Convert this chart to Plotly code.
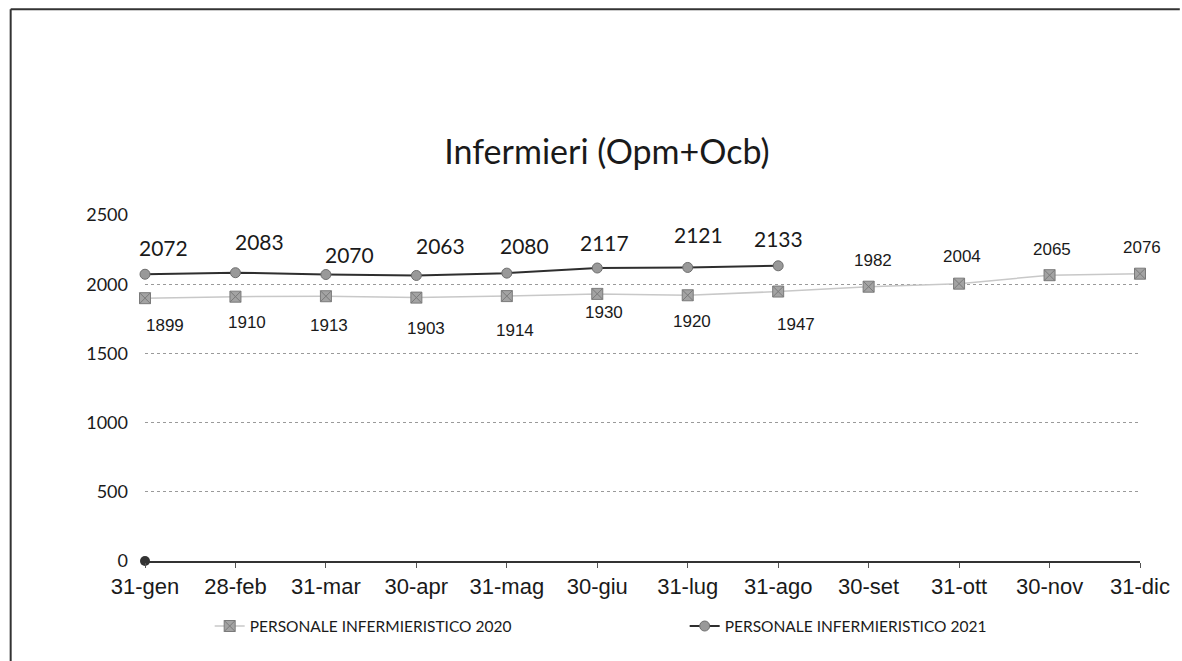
import plotly.graph_objects as go

# dati del grafico
mesi = ['31-gen', '28-feb', '31-mar', '30-apr', '31-mag', '30-giu',
        '31-lug', '31-ago', '30-set', '31-ott', '30-nov', '31-dic']
personale_2020 = [1899, 1910, 1913, 1903, 1914, 1930, 1920, 1947, 1982, 2004, 2065, 2076]
personale_2021 = [2072, 2083, 2070, 2063, 2080, 2117, 2121, 2133]
punto_zero = [0]
y_ticks = [0, 500, 1000, 1500, 2000, 2500]

# spostamento delle etichette (come posizionate a mano in Excel)
shift_2020_y = [-27, -26, -29, -31, -34, -19, -26, -33, 26, 27, 26, 26]
shift_2020_x = [20, 12, 3, 10, 8, 7, 4, 18, 4, 3, 2, 2]
shift_2021_y = [27, 31, 20, 30, 28, 26, 33, 27]
shift_2021_x = [18, 24, 24, 24, 18, 7, 11, 0]

fig = go.Figure()

fig.add_trace(go.Scatter(
    x=mesi, y=personale_2020,
    mode='lines+markers',
    name='PERSONALE INFERMIERISTICO 2020',
    line=dict(color='#c8c8c8', width=1.5),
    marker=dict(symbol='square-x', size=11, color='#a3a3a3',
                line=dict(color='#7a7a7a', width=1)),
    cliponaxis=False
))

fig.add_trace(go.Scatter(
    x=mesi[:len(personale_2021)], y=personale_2021,
    mode='lines+markers',
    name='PERSONALE INFERMIERISTICO 2021',
    line=dict(color='#2e2e2e', width=2),
    marker=dict(symbol='circle', size=10, color='#999999',
                line=dict(color='#6e6e6e', width=1)),
    cliponaxis=False
))

# punto isolato sullo zero
fig.add_trace(go.Scatter(
    x=mesi[:1], y=punto_zero,
    mode='markers',
    showlegend=False,
    marker=dict(symbol='circle', size=10, color='#333333'),
    cliponaxis=False
))

# etichette dati
for i, v in enumerate(personale_2020):
    fig.add_annotation(x=mesi[i], y=v, text=str(v), showarrow=False,
                       xshift=shift_2020_x[i], yshift=shift_2020_y[i],
                       font=dict(family='Liberation Sans, Arial', size=17, color='#1a1a1a'))

for i, v in enumerate(personale_2021):
    fig.add_annotation(x=mesi[i], y=v, text=str(v), showarrow=False,
                       xshift=shift_2021_x[i], yshift=shift_2021_y[i],
                       font=dict(family='Lato', size=21, color='#1a1a1a'))

# cornice del grafico
fig.add_shape(type='line', xref='paper', yref='paper',
              x0=-0.135, x1=1.04, y0=1.595, y1=1.595,
              line=dict(color='#333333', width=2))
fig.add_shape(type='line', xref='paper', yref='paper',
              x0=-0.135, x1=-0.135, y0=1.595, y1=-0.4,
              line=dict(color='#333333', width=2))

fig.update_layout(
    width=1182, height=661,
    margin=dict(l=145, r=37, t=215, b=100),
    paper_bgcolor='white',
    plot_bgcolor='white',
    title=dict(text='Infermieri (Opm+Ocb)', xref='container', yref='container',
               x=0.5135, y=0.77, xanchor='center', yanchor='middle',
               font=dict(family='Lato', size=34, color='#1a1a1a')),
    showlegend=True,
    legend=dict(orientation='h', x=0.065, y=-0.14, xanchor='left', yanchor='top',
                entrywidth=430, font=dict(family='Lato', size=15.5, color='#1a1a1a')),
    xaxis=dict(
        type='category',
        range=[0, len(mesi) - 1],
        showgrid=False,
        showline=True, linecolor='#333333', linewidth=1.5,
        ticks='outside', ticklen=5, tickcolor='#555555',
        tickfont=dict(family='Liberation Sans, Arial', size=22, color='#1a1a1a'),
        zeroline=False
    ),
    yaxis=dict(
        range=[0, 2500],
        tickvals=y_ticks,
        showgrid=True, gridcolor='#9a9a9a', griddash='dot', gridwidth=1,
        showline=False, zeroline=False,
        ticks='', ticklabelstandoff=16,
        tickfont=dict(family='Lato', size=18, color='#1a1a1a')
    )
)

# pagina senza margini, il grafico occupa esattamente la finestra
fig.write_html("out.html", config={'displayModeBar': False},
               post_script="document.body.style.margin='0';document.body.style.overflow='hidden';")
